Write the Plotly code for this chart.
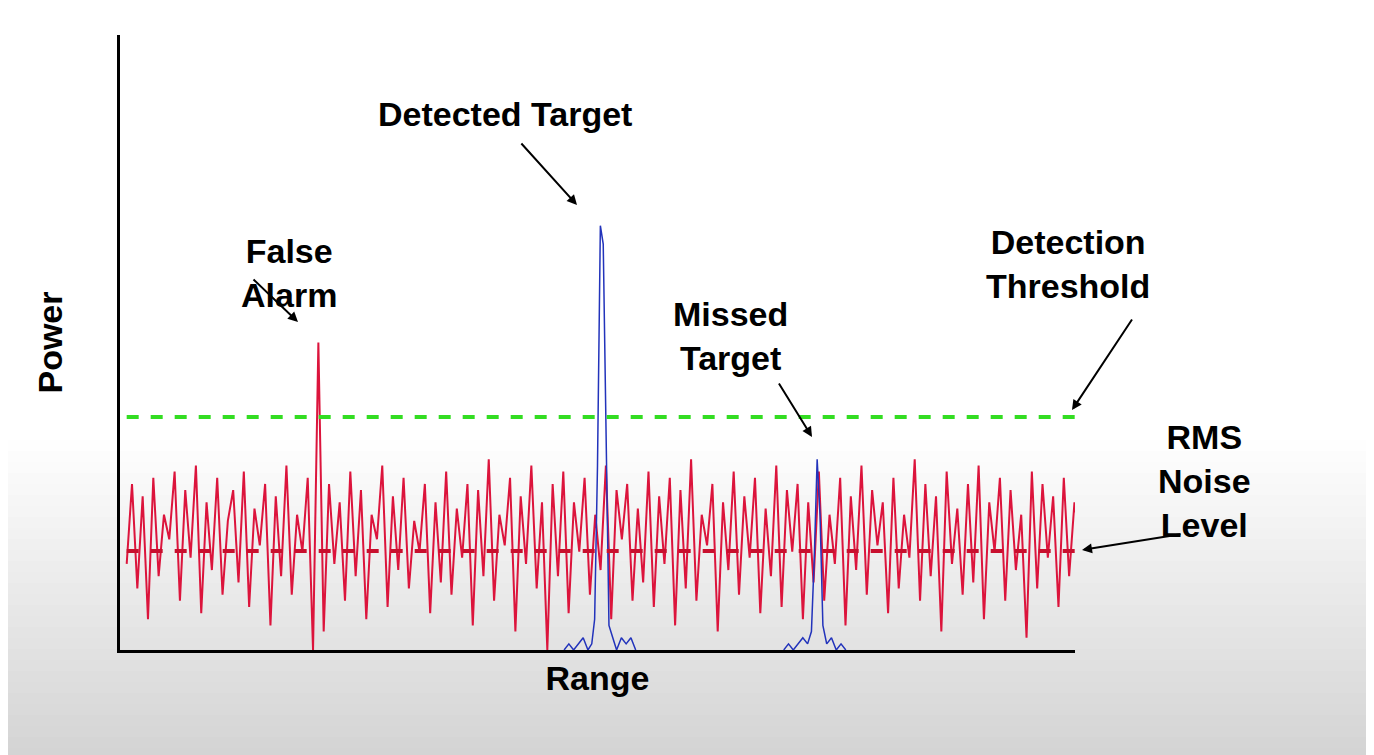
import numpy as np
import plotly.graph_objects as go

noise = [14,27,10,25,5,28,12,22,18,29,8,26,15,30,6,24,13,28,9,21,
         26,11,29,7,23,17,27,4,25,12,30,9,22,16,28,0,50,3,27,14,
         24,8,29,12,26,5,22,18,30,7,25,13,28,10,21,16,27,6,24,11,
         29,9,23,15,27,4,26,12,31,8,22,17,28,3,25,14,30,10,24,0,
         27,12,29,6,24,16,28,9,22,13,30,5,26,18,27,8,23,11,29,7,
         25,14,28,4,26,10,31,8,22,17,27,3,24,13,29,9,25,15,28,6,
         23,12,30,7,26,16,27,5,24,11,29,8,22,14,28,4,25,13,30,9,
         26,17,24,6,28,10,22,15,31,8,27,12,25,3,29,14,23,9,27,11,
         30,5,24,16,28,8,26,13,22,2,29,10,27,15,25,7,28,12,24,18]
noise_x = np.linspace(7, 1005, len(noise))

det_x = [465,470,475,480,485,490,494,497,500,503,506,509,512,516,520,525,530,535,540]
det_y = [0,1,0,1,2,0,1,5,30,69,66,35,4,2,0,2,1,2,0]
mis_x = [695,700,705,710,715,720,724,727,730,733,736,740,745,750,755,760]
mis_y = [0,1,0,1,2,1,3,15,31,22,4,1,2,0,1,0]

threshold = 37.9
rms = 16.1
line_x = [7, 1000]

def px_(px): return (px - 120) / 955
def py_(py): return (650 - py) / 615

fig = go.Figure()
fig.add_trace(go.Scatter(x=noise_x, y=noise, mode="lines", line=dict(color="#dc143c", width=2)))
fig.add_trace(go.Scatter(x=det_x, y=det_y, mode="lines", line=dict(color="#2233bb", width=1.5)))
fig.add_trace(go.Scatter(x=mis_x, y=mis_y, mode="lines", line=dict(color="#2233bb", width=1.5)))
fig.add_trace(go.Scatter(x=line_x, y=[threshold]*2, mode="lines", line=dict(color="#33dd22", width=4, dash="dash")))
fig.add_trace(go.Scatter(x=line_x, y=[rms]*2, mode="lines", line=dict(color="#c8102e", width=4, dash="dash")))

shapes = []
n = 30
y_top = py_(440)
y_bot = py_(770)
for i in range(n):
    t = (i + 0.5) / n
    c = int(255 - 45 * t)
    shapes.append(dict(type="rect", xref="paper", yref="paper", x0=-0.3, x1=1.5,
                       y0=y_top + (y_bot - y_top) * i / n, y1=y_top + (y_bot - y_top) * (i + 1) / n,
                       fillcolor=f"rgb({c},{c},{c})", line=dict(width=0), layer="below"))

font = dict(family="Liberation Sans, Arial", size=34, color="black")
anns = []
for txt, px, py in [("Detected Target", 505, 93), ("False<br>Alarm", 239, 230),
                    ("Missed<br>Target", 730, 336), ("Detection<br>Threshold", 1152, 264),
                    ("RMS<br>Noise<br>Level", 1253, 546)]:
    anns.append(dict(x=px_(px), y=py_(py), xref="paper", yref="paper",
                     text="<b>" + txt.replace("<br>", "</b><br><b>") + "</b>",
                     showarrow=False, font=font, align="center"))
for (tx, ty, hx, hy) in [(520,142,577,205),(252,278,298,322),(778,382,812,437),(1133,318,1072,410),(1182,534,1082,550)]:
    anns.append(dict(x=px_(hx), y=py_(hy), ax=tx - hx, ay=ty - hy, xref="paper", yref="paper",
                     axref="pixel", ayref="pixel",
                     text="", showarrow=True, arrowhead=2, arrowwidth=2, arrowsize=1, arrowcolor="black"))

fig.update_layout(width=1374, height=755, margin=dict(l=112, r=307, t=27, b=113),
                  paper_bgcolor="white", plot_bgcolor="rgba(0,0,0,0)", showlegend=False,
                  shapes=shapes, annotations=anns)
fig.update_xaxes(range=[0, 1000], showgrid=False, zeroline=False, showticklabels=False, ticks="",
                 showline=True, linecolor="black", linewidth=3,
                 title=dict(text="<b>Range</b>", font=font, standoff=15))
fig.update_yaxes(range=[0, 100], showgrid=False, zeroline=False, showticklabels=False, ticks="",
                 showline=True, linecolor="black", linewidth=3,
                 title=dict(text="<b>Power</b>", font=font, standoff=45))
fig.write_html("out.html")
